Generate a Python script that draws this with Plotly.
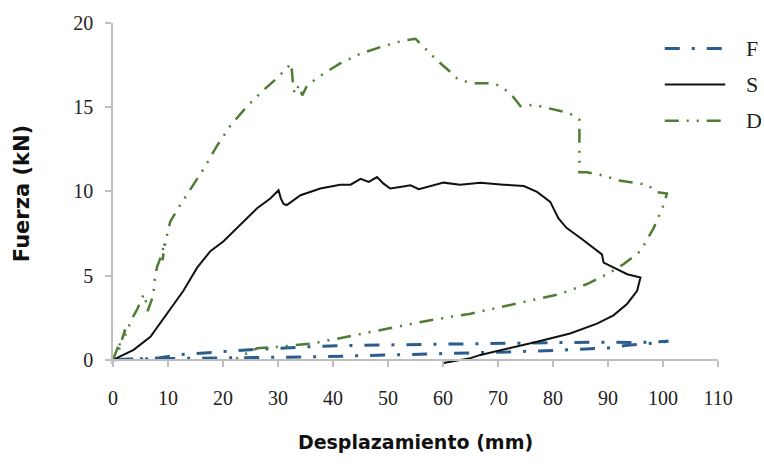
import plotly.graph_objects as go

# Displacement (mm) / force (kN) curves for the three specimens
f_x = [0, 3, 8, 12, 20, 25, 30, 37, 45, 55, 65, 72, 80, 88, 95, 101,
       97, 94, 90, 85, 80, 72, 65, 55, 45, 37, 30, 20, 10, 3, 0]
f_y = [0, 0.05, 0.1, 0.3, 0.5, 0.6, 0.68, 0.8, 0.86, 0.9, 0.95, 0.98, 1.03, 1.05, 1.02, 1.1,
       0.95, 0.88, 0.7, 0.62, 0.55, 0.47, 0.4, 0.3, 0.24, 0.18, 0.14, 0.1, 0.07, 0.04, 0]

s_x = [0, 3.75, 6.8, 9.8, 12.8, 15.3, 17.7, 20.1, 23.1, 26.2, 28.6, 29.7, 30.1, 30.5, 31.0,
       31.6, 34.1, 37.7, 41.3, 43.2, 45.0, 46.5, 48.0, 49.2, 50.4, 52.2, 54.1, 55.6, 57.7,
       60.1, 63.1, 66.8, 71.0, 74.7, 77.1, 79.5, 81.0, 82.5, 85.0, 87.4, 88.9, 89.2, 91.0,
       93.5, 95.9, 95.3, 93.5, 91.0, 88.0, 83.1, 77.1, 71.0, 66.8, 65.0, 60.1]
s_y = [0, 0.59, 1.37, 2.74, 4.1, 5.47, 6.45, 7.04, 8.0, 9.0, 9.58, 9.9, 10.07, 9.6, 9.25,
       9.19, 9.77, 10.17, 10.4, 10.4, 10.75, 10.56, 10.85, 10.46, 10.17, 10.26, 10.36, 10.13,
       10.3, 10.52, 10.4, 10.52, 10.4, 10.32, 9.97, 9.38, 8.4, 7.82, 7.23, 6.65, 6.26, 5.77,
       5.47, 5.08, 4.89, 4.1, 3.33, 2.64, 2.15, 1.56, 1.07, 0.59, 0.29, 0.1, -0.19]

d_x = [0, 1.3, 1.0, 2.2, 2.0, 3.4, 4.4, 5.6, 5.9, 6.3, 7.3, 7.6, 8.0, 8.9, 9.4, 9.0, 9.6,
       10.4, 12.2, 14.1, 16.5, 18.9, 21.3, 24.4, 27.4, 29.8, 31.3, 32.4, 32.7, 33.0, 33.8,
       34.4, 35.3, 38.3, 41.3, 45.0, 48.6, 52.8, 55.0, 56.5, 58.9, 61.3, 62.5, 65.0, 69.2,
       70.4, 72.2, 74.1, 76.5, 78.9, 82.3, 84.1, 84.8, 84.8, 86.2, 89.2, 91.9, 95.9, 97.4,
       98.6, 100.7, 100.1, 98.3, 95.9, 92.8, 90.4, 86.2, 81.3, 75.9, 71.0, 65.0, 57.7, 48.6,
       42.5, 36.5, 30.4, 26.2, 21.9]
d_y = [0, 1.1, 0.5, 1.8, 1.3, 2.4, 3.0, 3.9, 3.6, 2.9, 3.8, 4.8, 5.5, 6.3, 7.0, 5.9, 7.1,
       8.2, 9.19, 10.17, 11.34, 12.7, 13.88, 15.06, 16.03, 16.72, 17.2, 17.6, 16.5, 15.8,
       16.3, 15.7, 16.3, 17.0, 17.6, 18.18, 18.57, 18.96, 19.06, 18.57, 17.79, 17.1, 16.72,
       16.42, 16.42, 16.23, 15.84, 15.06, 15.15, 14.96, 14.7, 14.47, 14.27, 11.14, 11.14,
       10.94, 10.65, 10.46, 10.36, 9.97, 9.87, 9.19, 7.82, 6.45, 5.67, 5.18, 4.5, 3.91, 3.52,
       3.13, 2.74, 2.35, 1.76, 1.37, 0.98, 0.78, 0.68, 0.0]

x_ticks = [0, 10, 20, 30, 40, 50, 60, 70, 80, 90, 100, 110]
y_ticks = [0, 5, 10, 15, 20]

series = [
    ("F", f_x, f_y, "#2B5E8E", 3, "15px,12px,3px,12px"),
    ("S", s_x, s_y, "#111111", 2, "solid"),
    ("D", d_x, d_y, "#4F7D34", 2.5, "14px,8px,2px,8px,2px,8px"),
]

fig = go.Figure()
for name, xs, ys, color, width, dash in series:
    fig.add_trace(go.Scatter(x=xs, y=ys, mode="lines", name=name,
                             line=dict(color=color, width=width, dash=dash),
                             showlegend=False))

# Legend drawn as sample strokes with labels at the upper right
legend_rows = [0.925, 0.82, 0.713]
for (name, _, _, color, width, dash), ly in zip(series, legend_rows):
    fig.add_shape(type="line", xref="paper", yref="paper",
                  x0=0.912, x1=1.012, y0=ly, y1=ly,
                  line=dict(color=color, width=width, dash=dash))
    fig.add_annotation(x=1.043, y=ly, xref="paper", yref="paper", text=name,
                       showarrow=False, xanchor="left", yanchor="middle",
                       font=dict(family="Liberation Serif", size=22, color="#222222"))

y_lo = -0.25
axis_col = "#BFBFBF"
tick_font = dict(family="Liberation Serif", size=20, color="#222222")

fig.update_layout(
    width=764, height=464,
    margin=dict(l=113, r=46, t=19, b=100),
    paper_bgcolor="white", plot_bgcolor="white",
    xaxis=dict(range=[0, 110], tickvals=x_ticks, showgrid=False, zeroline=False,
               showline=True, linecolor=axis_col, linewidth=1.5,
               ticks="outside", ticklen=6, tickcolor=axis_col, tickwidth=1.5,
               tickfont=tick_font, ticklabelstandoff=14,
               anchor="free", position=(0 - y_lo) / (20 - y_lo),
               title=dict(text="Desplazamiento (mm)", standoff=27,
                          font=dict(family="DejaVu Sans", size=19, color="#111111",
                                    weight="bold"))),
    yaxis=dict(range=[y_lo, 20], tickvals=y_ticks, showgrid=False, zeroline=False,
               showline=True, linecolor=axis_col, linewidth=1.5,
               ticks="outside", ticklen=6, tickcolor=axis_col, tickwidth=1.5,
               tickfont=tick_font, ticklabelstandoff=8,
               title=dict(text="Fuerza (kN)", standoff=38,
                          font=dict(family="DejaVu Sans", size=21, color="#111111",
                                    weight="bold"))),
)

fig.write_html("out.html")
